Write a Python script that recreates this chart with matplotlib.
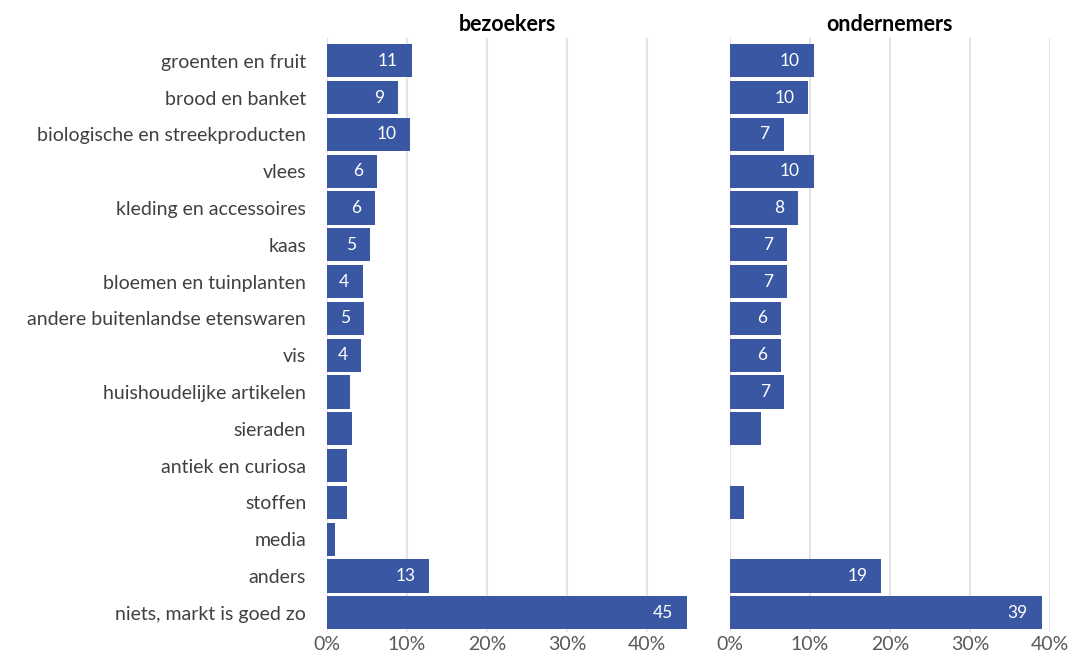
import numpy as np
import matplotlib.pyplot as plt

categories = [
    "groenten en fruit", "brood en banket", "biologische en streekproducten",
    "vlees", "kleding en accessoires", "kaas", "bloemen en tuinplanten",
    "andere buitenlandse etenswaren", "vis", "huishoudelijke artikelen",
    "sieraden", "antiek en curiosa", "stoffen", "media", "anders",
    "niets, markt is goed zo",
]
bezoekers = [10.6, 8.9, 10.4, 6.2, 6.0, 5.4, 4.5, 4.6, 4.3, 2.9, 3.1, 2.5, 2.5, 1.0, 12.8, 45.0]
ondernemers = [10.5, 9.8, 6.7, 10.5, 8.5, 7.1, 7.1, 6.4, 6.4, 6.8, 3.9, 0.0, 1.8, 0.0, 18.9, 39.0]
panel_titles = ["bezoekers", "ondernemers"]
x_ticks = [0, 10, 20, 30, 40]
x_ticklabels = ["0%", "10%", "20%", "30%", "40%"]

bar_color = "#3A57A4"
grid_color = "#E4E4E4"
label_color = "#404040"

plt.rcParams["font.family"] = ["Lato", "DejaVu Sans"]

fig = plt.figure(figsize=(10.73, 6.55), dpi=100)
ax_left = fig.add_axes([0.3048, 0.0351, 0.3355, 0.907])
ax_right = fig.add_axes([0.6803, 0.0351, 0.2982, 0.907])

y = np.arange(len(categories))

for ax, values, title, xmax in [(ax_left, bezoekers, panel_titles[0], 45),
                                (ax_right, ondernemers, panel_titles[1], 40)]:
    ax.barh(y, values, height=0.9, color=bar_color, zorder=3)
    for yi, v in zip(y, values):
        if v >= 4:
            ax.annotate(f"{round(v):d}", xy=(v, yi), xytext=(-10, 0),
                        textcoords="offset points", ha="right", va="center",
                        color="white", fontsize=12.5, zorder=4)
    ax.set_xlim(0, xmax)
    ax.set_ylim(15.52, -0.62)
    ax.set_xticks(x_ticks, x_ticklabels)
    ax.grid(axis="x", color=grid_color, linewidth=1.6, zorder=0)
    ax.tick_params(axis="x", length=0, labelsize=14, colors="#595959", pad=3)
    ax.tick_params(axis="y", length=0)
    for s in ax.spines.values():
        s.set_visible(False)
    ax.set_title(title, fontsize=15.5, fontweight="bold", color="black", pad=5)

ax_left.set_yticks(y, categories)
ax_left.tick_params(axis="y", labelsize=14, colors=label_color, pad=15)
ax_right.set_yticks(y, [""] * len(categories))

fig.savefig("out.png", dpi=100, facecolor="white")
